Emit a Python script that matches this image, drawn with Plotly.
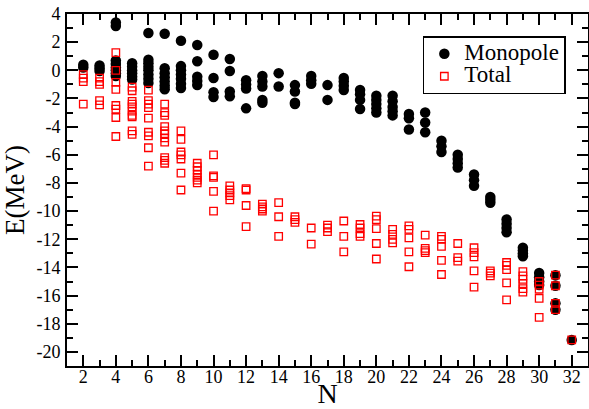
import plotly.graph_objects as go

# ---- data ----
mono_N = {
    2: [0.4, 0.2],
    3: [0.35, 0.15, -0.05],
    4: [3.4, 3.15, 0.7, 0.45, 0.2, 0.0, -0.2, -0.4],
    5: [0.5, 0.25, 0.0, -0.2, -0.45, -0.65],
    6: [2.65, 0.75, 0.5, 0.25, 0.0, -0.3, -0.6, -0.9],
    7: [2.6, 0.15, -0.2, -0.5, -0.8, -1.1, -1.35],
    8: [2.1, 0.3, 0.0, -0.3, -0.6, -0.95, -1.25],
    9: [1.8, 0.65, -0.45, -0.75, -1.05],
    10: [1.1, -0.55, -1.55, -1.9],
    11: [0.8, -0.05, -1.5, -1.85],
    12: [-0.7, -1.0, -1.3, -2.7],
    13: [-0.4, -0.8, -1.15, -2.1, -2.3],
    14: [-0.2, -1.15],
    15: [-1.05, -1.5, -2.3, -2.4],
    16: [-0.4, -0.7, -0.95],
    17: [-1.05, -2.1],
    18: [-0.55, -0.8, -1.1, -1.4],
    19: [-1.4, -1.7, -2.1, -2.75],
    20: [-1.8, -2.1, -2.4, -2.7, -3.0],
    21: [-1.8, -2.2, -2.6, -2.9, -3.2],
    22: [-3.1, -3.4, -4.2],
    23: [-3.0, -3.7, -4.4],
    24: [-5.0, -5.4, -5.8],
    25: [-6.0, -6.3, -6.6, -6.9],
    26: [-7.4, -7.8, -8.2],
    27: [-9.0, -9.2, -9.4],
    28: [-10.6, -10.9, -11.2, -11.5],
    29: [-12.6, -12.8, -13.0, -13.2],
    30: [-14.4, -14.7, -15.0, -15.25],
    31: [-14.55, -15.3, -16.55, -17.0],
    32: [-19.15],
}

total_N = {
    2: [-0.3, -0.55, -0.8, -2.4],
    3: [-0.55, -0.8, -1.0, -2.15, -2.45],
    4: [1.25, 0.0, -0.85, -1.35, -2.5, -2.75, -3.35, -4.7],
    5: [-1.2, -1.45, -2.2, -2.4, -2.6, -2.9, -3.2, -3.3, -4.3, -4.55],
    6: [-1.4, -2.15, -2.4, -2.65, -3.4, -4.4, -4.65, -5.5, -6.8],
    7: [-2.4, -3.0, -3.2, -4.0, -4.3, -4.5, -4.8, -5.1, -6.2, -6.4, -6.6],
    8: [-4.3, -4.9, -5.8, -6.0, -6.3, -7.3, -8.5],
    9: [-6.6, -6.85, -7.1, -7.4, -7.6, -7.8, -8.0],
    10: [-6.0, -7.5, -7.6, -8.6, -10.0],
    11: [-8.2, -8.5, -8.7, -8.9, -9.2],
    12: [-8.4, -8.5, -9.6, -11.1],
    13: [-9.5, -9.7, -9.85, -10.0],
    14: [-9.4, -10.4, -11.8],
    15: [-10.4, -10.6, -10.8],
    16: [-11.2, -12.35],
    17: [-11.0, -11.2, -11.45],
    18: [-10.7, -11.8, -12.9],
    19: [-10.95, -11.2, -11.6, -11.8],
    20: [-10.35, -10.6, -11.25, -12.3, -13.4],
    21: [-11.3, -11.65, -12.0, -12.25],
    22: [-11.05, -11.3, -11.9, -12.9, -13.95],
    23: [-11.7, -12.65, -12.8, -12.95],
    24: [-11.8, -12.0, -12.5, -13.5, -14.5],
    25: [-12.3, -13.3, -13.55],
    26: [-12.6, -12.95, -13.25, -14.25, -15.4],
    27: [-14.25, -14.4, -14.6],
    28: [-13.65, -13.85, -14.15, -15.1, -16.3],
    29: [-14.3, -14.6, -14.85, -15.15, -15.5, -15.75],
    30: [-15.0, -15.25, -15.55, -16.2, -17.55],
    31: [-14.55, -15.3, -16.55, -17.0],
    32: [-19.15],
}

series_names = ["Monopole", "Total"]

x_tickvals = list(range(2, 33, 2))
x_ticktext = [str(v) for v in x_tickvals]
y_tickvals = list(range(4, -21, -2))
y_ticktext = [str(v) for v in y_tickvals]

mono_x = [n for n, vals in mono_N.items() for _ in vals]
mono_y = [v for vals in mono_N.values() for v in vals]
tot_x = [n for n, vals in total_N.items() for _ in vals]
tot_y = [v for vals in total_N.values() for v in vals]

FONT = "Liberation Serif, Times New Roman, serif"
LEG = '<span style="font-size:23px">{}</span>'

fig = go.Figure()
fig.add_trace(go.Scatter(
    x=mono_x, y=mono_y, mode="markers", name=LEG.format(series_names[0]),
    marker=dict(symbol="circle", size=10.5, color="black", line=dict(width=0)),
))
fig.add_trace(go.Scatter(
    x=tot_x, y=tot_y, mode="markers", name=LEG.format(series_names[1]),
    marker=dict(symbol="square-open", size=7.5, color="red", line=dict(width=1.3, color="red")),
))

axis_common = dict(
    showline=True, linecolor="black", linewidth=2, mirror="ticks",
    ticks="inside", ticklen=11, tickwidth=2, tickcolor="black",
    showgrid=False, zeroline=False, automargin=False,
    tickfont=dict(family=FONT, size=18, color="black"),
    minor=dict(ticks="inside", ticklen=6, tickwidth=2, tickcolor="black", dtick=1, showgrid=False),
)

fig.update_xaxes(
    range=[1, 33], tickmode="array", tickvals=x_tickvals, ticktext=x_ticktext,
    title=dict(text="N", font=dict(family=FONT, size=28, color="black"), standoff=18),
    ticklabelstandoff=-7,
    **axis_common,
)
fig.update_yaxes(
    range=[-21, 4], tickmode="array", tickvals=y_tickvals, ticktext=y_ticktext,
    title=dict(text="E(MeV)", font=dict(family=FONT, size=27, color="black"), standoff=4),
    ticklabelstandoff=1,
    **axis_common,
)

fig.update_layout(
    width=589, height=409,
    margin=dict(l=67, r=1, t=14, b=43, pad=0),
    paper_bgcolor="white", plot_bgcolor="white",
    font=dict(family=FONT, color="black"),
    showlegend=True,
    legend=dict(
        x=0.683, y=0.9375, xanchor="left", yanchor="top",
        bordercolor="black", borderwidth=1.5, bgcolor="white",
        font=dict(family=FONT, size=15, color="black"),
        itemwidth=30, tracegroupgap=0,
    ),
)

fig.write_html(
    "out.html",
    config={"displayModeBar": False},
    post_script="document.body.style.margin='0';document.body.style.padding='0';",
)
